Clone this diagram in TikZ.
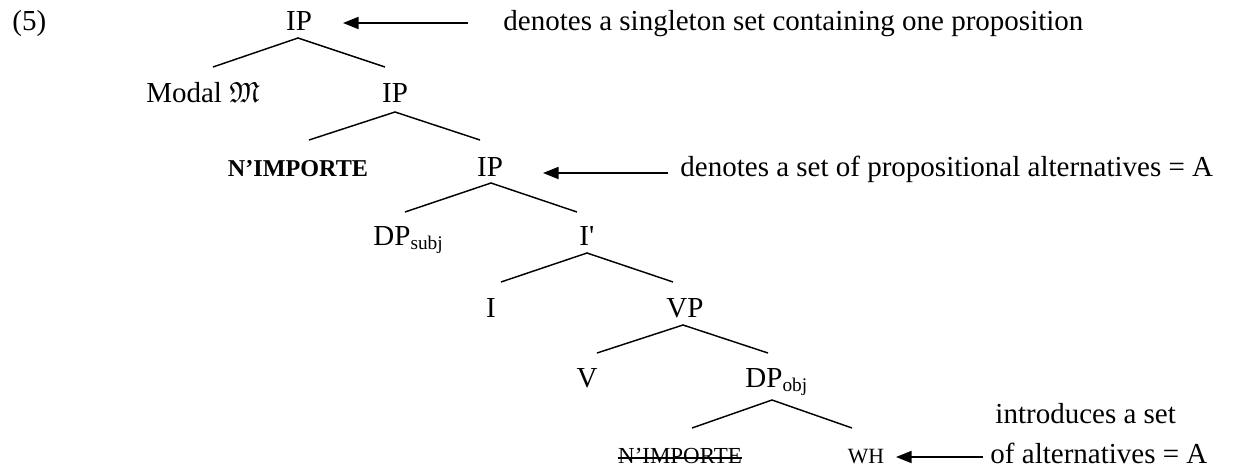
\documentclass[tikz,border=0pt,12pt]{standalone}
\usepackage{amssymb}
\usepackage{fontspec}
\setmainfont{Liberation Serif}
\newfontfamily\plainserif{Liberation Serif}
\usetikzlibrary{arrows.meta,calc}
\tikzset{
  lab/.style={inner sep=0pt, anchor=base, font=\fontsize{12}{14}\selectfont},
  labw/.style={inner sep=0pt, anchor=base west, font=\fontsize{12}{14}\selectfont},
  branch/.style={line width=0.6pt},
  pointer/.style={line width=0.8pt, -{Triangle[length=6.5pt,width=5pt]}},
  strike/.style={line width=0.45pt}
}
\begin{document}
\begin{tikzpicture}[x=0.41379pt,y=-0.41379pt]
\useasboundingbox (0,0) rectangle (1248,468);
% label
\node[labw] (num) at (12,30) {(5)};
% tree nodes
\node[lab] (ip0) at (299,30) {IP};
\node[lab] (modal) at (203,102) {Modal $\mathfrak{M}$};
\node[lab] (ip1) at (395,102) {IP};
\node[lab, font=\fontsize{10}{12}\selectfont] (nimp) at (298,176) {\bfseries N’IMPORTE};
\node[lab] (ip2) at (490,176) {IP};
\node[labw] (dps) at (373,245) {DP\textsubscript{subj}};
\node[labw] (ibar) at (579,245) {{\plainserif I'}};
\node[lab] (i) at (491,317) {I};
\node[lab] (vp) at (685,317) {VP};
\node[lab] (v) at (587,387) {V};
\node[labw] (dpo) at (745,387) {DP\textsubscript{obj}};
\node[lab, font=\fontsize{9.5}{11}\selectfont] (nimp2) at (680,463) {N’IMPORTE};
\node[lab, font=\fontsize{9}{11}\selectfont] (wh) at (866,463) {WH};
% annotations
\node[labw] (t0) at (503,30) {denotes a singleton set containing one proposition};
\node[labw] (t1) at (680,176) {denotes a set of propositional alternatives = A};
\node[labw] (t2a) at (995,423) {introduces a set};
\node[labw] (t2b) at (990,463) {of alternatives = A};
% strike-through
\draw[strike] ($(nimp2.base west)+(0,-5)$) -- ($(nimp2.base east)+(0,-5)$);
% branch points
\coordinate (a0) at (298,38);  \coordinate (l0) at (213,67);  \coordinate (r0) at (385,67);
\coordinate (a1) at (395,112); \coordinate (l1) at (309,140); \coordinate (r1) at (480,140);
\coordinate (a2) at (491,183); \coordinate (l2) at (405,212); \coordinate (r2) at (577,212);
\coordinate (a3) at (587,253); \coordinate (l3) at (501,282); \coordinate (r3) at (673,282);
\coordinate (a4) at (683,325); \coordinate (l4) at (597,353); \coordinate (r4) at (768,353);
\coordinate (a5) at (772,400); \coordinate (l5) at (692,428); \coordinate (r5) at (852,428);
\draw[branch] (l0) -- (a0) -- (r0);
\draw[branch] (l1) -- (a1) -- (r1);
\draw[branch] (l2) -- (a2) -- (r2);
\draw[branch] (l3) -- (a3) -- (r3);
\draw[branch] (l4) -- (a4) -- (r4);
\draw[branch] (l5) -- (a5) -- (r5);
% arrows
\coordinate (p0s) at (468,23); \coordinate (p0e) at (343,23);
\coordinate (p1s) at (668,173); \coordinate (p1e) at (543,173);
\coordinate (p2s) at (983,457); \coordinate (p2e) at (896,457);
\draw[pointer] (p0s) -- (p0e);
\draw[pointer] (p1s) -- (p1e);
\draw[pointer] (p2s) -- (p2e);
\end{tikzpicture}
\end{document}
